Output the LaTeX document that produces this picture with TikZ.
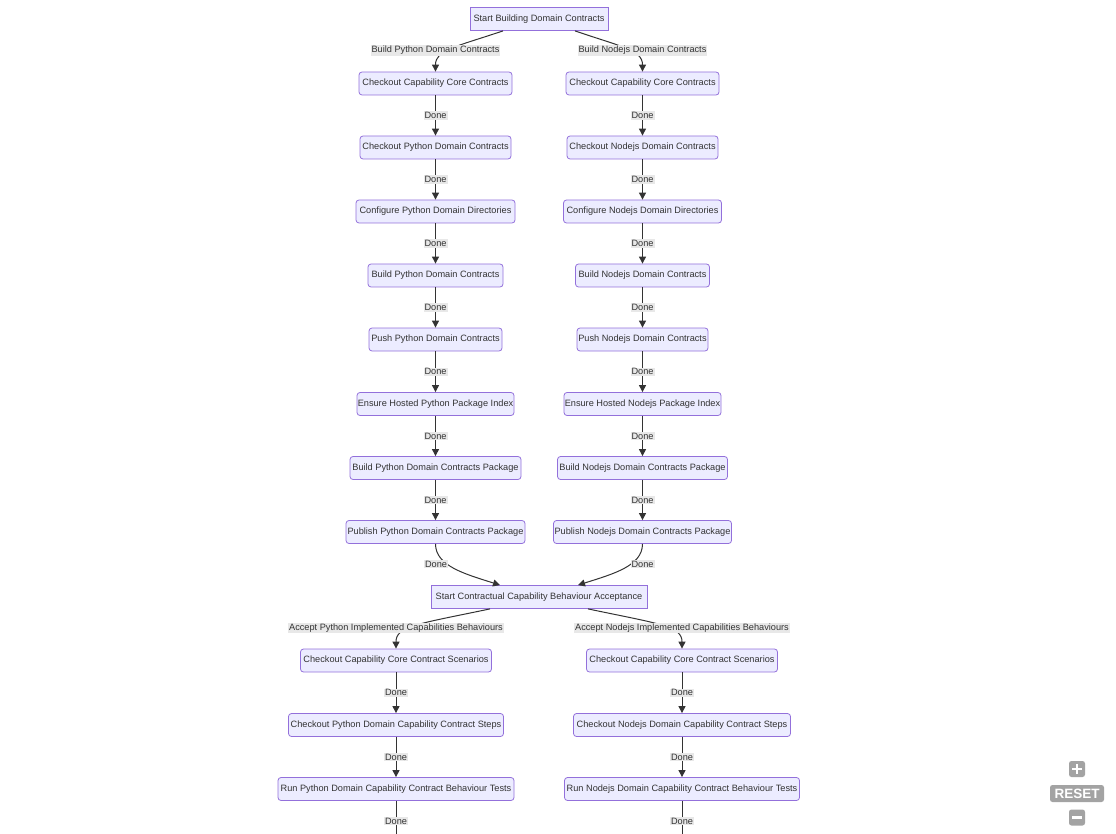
\documentclass[tikz,border=0pt]{standalone}
\usepackage{fontspec}
\setmainfont{Liberation Sans}
\usetikzlibrary{arrows.meta}
\definecolor{mfill}{HTML}{ECECFF}
\definecolor{mborder}{HTML}{9370DB}
\definecolor{ink}{HTML}{333333}
\definecolor{lblbg}{HTML}{E8E8E8}
\definecolor{ctrlgray}{HTML}{A3A3A3}
\begin{document}
\begin{tikzpicture}[x=1pt,y=-1pt,
  every node/.style={font=\fontsize{9.2}{11}\selectfont, text=ink},
  stepbox/.style={draw=mborder, fill=mfill, rounded corners=3pt, minimum height=23pt, inner sep=0pt, line width=0.8pt},
  startbox/.style={stepbox, rounded corners=0pt},
  lbl/.style={fill=lblbg, inner sep=1pt},
  edge/.style={draw=ink, line width=1pt, -{Triangle[length=7pt,width=7pt]}},
  ctrl/.style={fill=ctrlgray, rounded corners=2.5pt, inner sep=0pt}
]
\useasboundingbox (0,0) rectangle (1116,834);
\clip (0,0) rectangle (1116,834);

% --- build phase ---
\node[startbox, minimum width=138pt] (s1) at (539,19) {Start Building Domain Contracts};

\node[stepbox, minimum width=153pt] (pl1) at (435.5,83.5) {Checkout Capability Core Contracts};
\node[stepbox, minimum width=151pt] (pl2) at (435.5,147.5) {Checkout Python Domain Contracts};
\node[stepbox, minimum width=159pt] (pl3) at (435.5,211.5) {Configure Python Domain Directories};
\node[stepbox, minimum width=135pt] (pl4) at (435.5,275.5) {Build Python Domain Contracts};
\node[stepbox, minimum width=133pt] (pl5) at (435.5,339.5) {Push Python Domain Contracts};
\node[stepbox, minimum width=157pt] (pl6) at (435.5,404) {Ensure Hosted Python Package Index};
\node[stepbox, minimum width=171pt] (pl7) at (435.5,468) {Build Python Domain Contracts Package};
\node[stepbox, minimum width=179pt] (pl8) at (435.5,532) {Publish Python Domain Contracts Package};

\node[stepbox, minimum width=153pt] (nl1) at (642.5,83.5) {Checkout Capability Core Contracts};
\node[stepbox, minimum width=151pt] (nl2) at (642.5,147.5) {Checkout Nodejs Domain Contracts};
\node[stepbox, minimum width=158pt] (nl3) at (642.5,211.5) {Configure Nodejs Domain Directories};
\node[stepbox, minimum width=134pt] (nl4) at (642.5,275.5) {Build Nodejs Domain Contracts};
\node[stepbox, minimum width=131pt] (nl5) at (642.5,339.5) {Push Nodejs Domain Contracts};
\node[stepbox, minimum width=157pt] (nl6) at (642.5,404) {Ensure Hosted Nodejs Package Index};
\node[stepbox, minimum width=170pt] (nl7) at (642.5,468) {Build Nodejs Domain Contracts Package};
\node[stepbox, minimum width=178pt] (nl8) at (642.5,532) {Publish Nodejs Domain Contracts Package};

% --- acceptance phase ---
\node[startbox, minimum width=216pt] (s2) at (539,597) {Start Contractual Capability Behaviour Acceptance};

\node[stepbox, minimum width=191pt] (pa1) at (396,660.5) {Checkout Capability Core Contract Scenarios};
\node[stepbox, minimum width=215pt] (pa2) at (396,725) {Checkout Python Domain Capability Contract Steps};
\node[stepbox, minimum width=236pt] (pa3) at (396,789) {Run Python Domain Capability Contract Behaviour Tests};

\node[stepbox, minimum width=191pt] (na1) at (682,660.5) {Checkout Capability Core Contract Scenarios};
\node[stepbox, minimum width=217pt] (na2) at (682,725) {Checkout Nodejs Domain Capability Contract Steps};
\node[stepbox, minimum width=235pt] (na3) at (682,789) {Run Nodejs Domain Capability Contract Behaviour Tests};

\coordinate (pe) at (396,841);
\coordinate (ne) at (682,841);

% --- branching edges ---
\draw[edge] ([xshift=-36pt]s1.south) .. controls (455,47) and (435.5,50) .. (pl1.north);
\draw[edge] ([xshift=36pt]s1.south) .. controls (622,47) and (642.5,50) .. (nl1.north);
\node[lbl] (lb1) at (435.5,50.5) {Build Python Domain Contracts};
\node[lbl] (lb2) at (642.5,50.5) {Build Nodejs Domain Contracts};

% --- straight chains ---
\foreach \a/\b in {pl1/pl2,pl2/pl3,pl3/pl4,pl4/pl5,pl5/pl6,pl6/pl7,pl7/pl8,
                   nl1/nl2,nl2/nl3,nl3/nl4,nl4/nl5,nl5/nl6,nl6/nl7,nl7/nl8,
                   pa1/pa2,pa2/pa3,na1/na2,na2/na3,pa3/pe,na3/ne}
  \draw[edge] (\a) -- node[lbl] {Done} (\b);

% --- merge into acceptance ---
\draw[edge] (pl8.south) .. controls (435.5,566) and (465,574) .. ([xshift=-39pt]s2.north);
\draw[edge] (nl8.south) .. controls (642.5,566) and (613,574) .. ([xshift=39pt]s2.north);
\node[lbl] (lm1) at (436,564) {Done};
\node[lbl] (lm2) at (642.5,564) {Done};

% --- acceptance branches ---
\draw[edge] ([xshift=-49pt]s2.south) .. controls (418,624) and (396,626) .. (pa1.north);
\draw[edge] ([xshift=49pt]s2.south) .. controls (660,624) and (682,626) .. (na1.north);
\node[lbl] (la1) at (396,628) {Accept Python Implemented Capabilities Behaviours};
\node[lbl] (la2) at (682,628) {Accept Nodejs Implemented Capabilities Behaviours};

% --- zoom controls ---
\node[ctrl, minimum size=16pt] (zin) at (1077,769) {};
\draw[white, line width=2.6pt] ([xshift=-5pt]zin.center) -- ([xshift=5pt]zin.center);
\draw[white, line width=2.6pt] ([yshift=-5pt]zin.center) -- ([yshift=5pt]zin.center);
\node[ctrl, minimum width=54pt, minimum height=17pt, text=white, font=\bfseries\fontsize{13.5}{14}\selectfont] (reset) at (1077,793.5) {RESET};
\node[ctrl, minimum size=16pt] (zout) at (1077,817.5) {};
\draw[white, line width=2.6pt] ([xshift=-5pt]zout.center) -- ([xshift=5pt]zout.center);
\end{tikzpicture}
\end{document}
